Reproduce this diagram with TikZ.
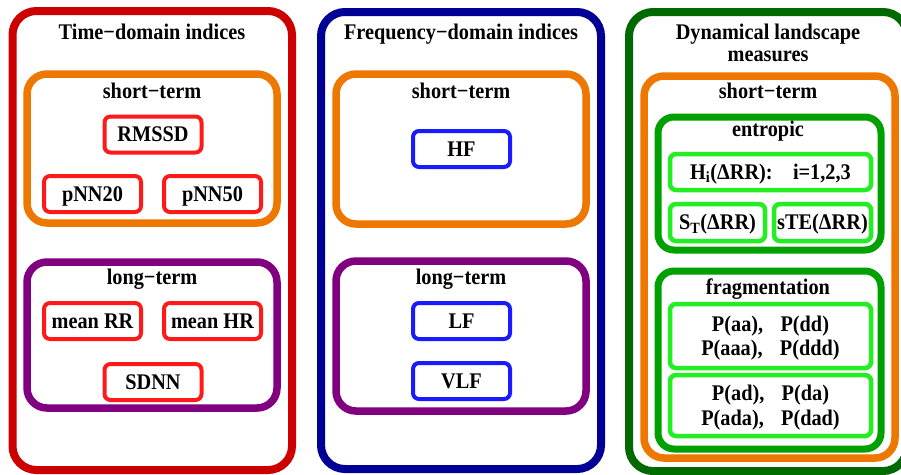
\documentclass[tikz,border=0pt]{standalone}
\usepackage{graphicx}
\usepackage{fontspec}
\setmainfont{Liberation Serif}
\definecolor{outred}{HTML}{CC0000}
\definecolor{boxred}{HTML}{FF1A1A}
\definecolor{orng}{HTML}{EE7700}
\definecolor{purp}{HTML}{800080}
\definecolor{navy}{HTML}{000096}
\definecolor{boxblue}{HTML}{1A1AFF}
\definecolor{dgreen}{HTML}{006A00}
\definecolor{mgreen}{HTML}{00A000}
\definecolor{lgreen}{HTML}{22EE22}
\newcommand{\vstr}[1]{\raisebox{-2.5pt}[\height][\depth]{\scalebox{1}[1.1]{\begin{tabular}{@{}c@{}}#1\end{tabular}}}}
\newcommand{\gp}{\hspace{0.85em}}
\tikzset{
  cont/.style={draw, rounded corners=24pt, line width=8pt, inner sep=0pt},
  mid/.style={draw, rounded corners=20pt, line width=7.5pt, inner sep=0pt},
  leaf/.style={draw, rounded corners=6pt, line width=4pt, inner sep=0pt, align=center,
    font=\fontsize{20.3}{22.7}\selectfont\bfseries},
  lbl/.style={inner sep=0pt, align=center, font=\fontsize{20.3}{20}\selectfont\bfseries},
}
\begin{document}
\begin{tikzpicture}[x=1pt,y=-1pt]
\useasboundingbox (0,0) rectangle (901,474);
\clip (0,0) rectangle (901,474);
\fill[white] (0,0) rectangle (901,474);
% ---- time domain
\node[cont, outred, minimum width=279.5pt, minimum height=459pt] (timebox) at (152.25,240.5) {};
\node[lbl] (timetitle) at (152,33) {\vstr{Time−domain indices}};
\node[mid, orng, minimum width=250pt, minimum height=149pt] (tshort) at (152,148.5) {};
\node[lbl] (tshortlbl) at (152,92) {\vstr{short−term}};
\node[leaf, boxred, text=black, minimum width=97pt, minimum height=36pt] (rmssd) at (153,134.5) {\vstr{RMSSD}};
\node[leaf, boxred, text=black, minimum width=97pt, minimum height=36pt] (pnn20) at (92.5,194) {\vstr{pNN20}};
\node[leaf, boxred, text=black, minimum width=97pt, minimum height=36pt] (pnn50) at (212.5,194) {\vstr{pNN50}};
\node[mid, purp, minimum width=250pt, minimum height=146pt] (tlong) at (152,335) {};
\node[lbl] (tlonglbl) at (152,278) {\vstr{long−term}};
\node[leaf, boxred, text=black, minimum width=97pt, minimum height=36pt] (meanrr) at (92.5,321) {\vstr{mean RR}};
\node[leaf, boxred, text=black, minimum width=97pt, minimum height=36pt] (meanhr) at (212.5,321) {\vstr{mean HR}};
\node[leaf, boxred, text=black, minimum width=97pt, minimum height=36pt] (sdnn) at (153,382) {\vstr{SDNN}};
% ---- frequency domain
\node[cont, navy, minimum width=280pt, minimum height=457pt] (freqbox) at (461,240.5) {};
\node[lbl] (freqtitle) at (461,33) {\vstr{Frequency−domain indices}};
\node[mid, orng, minimum width=250pt, minimum height=150pt] (fshort) at (461,149) {};
\node[lbl] (fshortlbl) at (461,92) {\vstr{short−term}};
\node[leaf, boxblue, text=black, minimum width=97pt, minimum height=36pt] (hf) at (461.5,149) {\vstr{HF}};
\node[mid, purp, minimum width=250pt, minimum height=150pt] (flong) at (461,336) {};
\node[lbl] (flonglbl) at (461,278) {\vstr{long−term}};
\node[leaf, boxblue, text=black, minimum width=97pt, minimum height=36pt] (lf) at (461.5,321) {\vstr{LF}};
\node[leaf, boxblue, text=black, minimum width=97pt, minimum height=36pt] (vlf) at (461.5,381) {\vstr{VLF}};
% ---- dynamical landscape
\node[cont, dgreen, minimum width=278pt, minimum height=459pt] (dynbox) at (768,241.5) {};
\node[lbl] (dyntitle) at (768,44) {\vstr{Dynamical landscape\\measures}};
\node[mid, orng, minimum width=251pt, minimum height=382pt] (dshort) at (769.5,267) {};
\node[lbl] (dshortlbl) at (768,92) {\vstr{short−term}};
\node[mid, mgreen, line width=7pt, rounded corners=16pt, minimum width=223pt, minimum height=133pt] (entropic) at (769.5,183.5) {};
\node[lbl] (entlbl) at (768,130) {\vstr{entropic}};
\node[leaf, lgreen, line width=4.5pt, text=black, minimum width=201pt, minimum height=36pt] (hbox) at (770.5,172) {\vstr{H\textsubscript{i}(ΔRR):\quad i=1,2,3}};
\node[leaf, lgreen, line width=4.5pt, text=black, minimum width=95pt, minimum height=37pt] (stbox) at (717.5,222.5) {\vstr{S\textsubscript{T}(ΔRR)}};
\node[leaf, lgreen, line width=4.5pt, text=black, minimum width=97pt, minimum height=37pt] (stebox) at (822.5,222.5) {\vstr{sTE(ΔRR)}};
\node[mid, mgreen, line width=7pt, rounded corners=16pt, minimum width=223pt, minimum height=178pt] (frag) at (769.5,360) {};
\node[lbl] (fraglbl) at (768,287) {\vstr{fragmentation}};
\node[leaf, lgreen, line width=4.5pt, text=black, minimum width=201pt, minimum height=64pt] (pone) at (770.5,336) {\vstr{P(aa),\gp P(dd)\\P(aaa),\gp P(ddd)}};
\node[leaf, lgreen, line width=4.5pt, text=black, minimum width=201pt, minimum height=61pt] (ptwo) at (770.5,405.5) {\vstr{P(ad),\gp P(da)\\P(ada),\gp P(dad)}};
\end{tikzpicture}
\end{document}
